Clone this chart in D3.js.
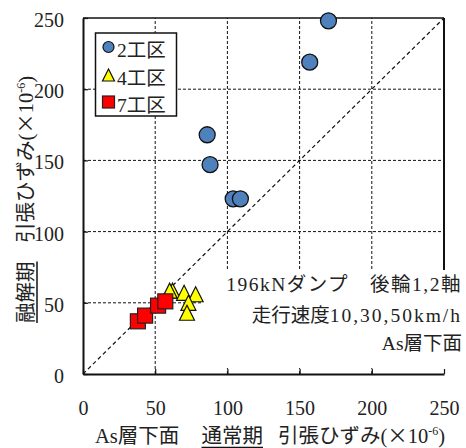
<!DOCTYPE html>
<html>
<head>
<meta charset="utf-8">
<script src="https://cdn.jsdelivr.net/npm/d3@7"></script>
<style>
  body { margin: 0; background: #fff; }
  svg text { font-family: "Liberation Serif", "Noto Sans CJK JP", serif; fill: #222; }
</style>
</head>
<body>
<svg id="chart" width="466" height="448"></svg>
<script>
// ---- data ----
const tickValues = [0, 50, 100, 150, 200, 250];
const gridValues = [50, 100, 150, 200];

// 2工区 (blue circles): [通常期, 融解期]
const zone2 = [[170, 248], [157, 219], [86, 168], [88, 147], [104, 123], [109, 123]];
// 4工区 (yellow triangles)
const zone4 = [[62, 58.5], [60, 58.5], [70, 57], [78, 56], [73, 50], [72, 43]];
// 7工区 (red squares)
const zone7 = [[38, 37], [43, 41], [52, 48], [57, 51]];

const seriesNames = ["2工区", "4工区", "7工区"];
const seriesColors = ["#4F81BD", "#FFFF00", "#FF0000"];

const noteLines = ["196kNダンプ　後輪1,2軸", "走行速度10,30,50km/h", "As層下面"];

// ---- layout ----
const svg = d3.select("#chart");
const x = d3.scaleLinear().domain([0, 250]).range([83, 444]);
const y = d3.scaleLinear().domain([0, 250]).range([374, 18]);

// 目盛線 (破線グリッド)
const grid = svg.append("g").attr("class", "grid");
grid.selectAll("line.v").data(gridValues).enter().append("line")
    .attr("x1", d => x(d)).attr("x2", d => x(d))
    .attr("y1", y(0)).attr("y2", y(250))
    .attr("stroke", "#111").attr("stroke-width", 1).attr("stroke-dasharray", "3,2");
grid.selectAll("line.h").data(gridValues).enter().append("line")
    .attr("x1", x(0)).attr("x2", x(250))
    .attr("y1", d => y(d)).attr("y2", d => y(d))
    .attr("stroke", "#111").attr("stroke-width", 1).attr("stroke-dasharray", "3,2");

// 1:1 線
svg.append("line")
    .attr("x1", x(0)).attr("y1", y(0))
    .attr("x2", x(250)).attr("y2", y(250))
    .attr("stroke", "#111").attr("stroke-width", 1.2).attr("stroke-dasharray", "4,3");

// 注記ボックス (グリッドを隠す白地)
svg.append("rect")
    .attr("x", 203).attr("y", 270).attr("width", 263).attr("height", 98)
    .attr("fill", "#fff");

const note = svg.append("g").attr("font-size", "19.5px").attr("text-anchor", "end");
note.append("text").attr("x", 462).attr("y", 291).attr("letter-spacing", "1.5px").text(noteLines[0]);
const l2 = note.append("text").attr("x", 462).attr("y", 321.5);
l2.append("tspan").text("走行速度");
l2.append("tspan").attr("letter-spacing", "2px").text("10,30,50km/h");
note.append("text").attr("x", 462).attr("y", 350).text(noteLines[2]);

// 枠線
const frame = svg.append("g").attr("stroke", "#111").attr("fill", "none");
frame.append("line").attr("x1", x(0)).attr("x2", x(250)).attr("y1", y(250)).attr("y2", y(250)).attr("stroke-width", 1.5);
frame.append("line").attr("x1", x(250)).attr("x2", x(250)).attr("y1", y(250)).attr("y2", 270).attr("stroke-width", 2);

// 軸 (内向き目盛)
const xAxis = svg.append("g").attr("transform", `translate(0,${y(0)})`)
    .call(d3.axisBottom(x).tickValues(tickValues).tickSizeInner(-5).tickSizeOuter(0).tickPadding(27));
const yAxis = svg.append("g").attr("transform", `translate(${x(0)},0)`)
    .call(d3.axisLeft(y).tickValues(tickValues).tickSizeInner(-5).tickSizeOuter(0).tickPadding(19));
[xAxis, yAxis].forEach(a => {
    a.select(".domain").attr("stroke", "#111").attr("stroke-width", 2);
    a.selectAll(".tick line").attr("stroke", "#111").attr("stroke-width", 1.2);
    a.selectAll(".tick text").attr("font-size", "20px").attr("fill", "#222")
        .attr("font-family", "Liberation Serif, serif");
});
yAxis.selectAll(".tick text").attr("dy", "0.42em");

// データ点
const marks = svg.append("g");
marks.selectAll("circle").data(zone2).enter().append("circle")
    .attr("cx", d => x(d[0])).attr("cy", d => y(d[1])).attr("r", 8)
    .attr("fill", seriesColors[0]).attr("stroke", "#111").attr("stroke-width", 1.3);
marks.selectAll("path.tri").data(zone4).enter().append("path")
    .attr("class", "tri")
    .attr("d", "M0,-7.5L7.5,7.5L-7.5,7.5Z")
    .attr("transform", d => `translate(${x(d[0])},${y(d[1])})`)
    .attr("fill", seriesColors[1]).attr("stroke", "#111").attr("stroke-width", 1.2);
marks.selectAll("rect").data(zone7).enter().append("rect")
    .attr("x", d => x(d[0]) - 7.5).attr("y", d => y(d[1]) - 7.5)
    .attr("width", 15).attr("height", 15)
    .attr("fill", seriesColors[2]).attr("stroke", "#222").attr("stroke-width", 1.2);

// 凡例
const legend = svg.append("g");
legend.append("rect").attr("x", 95.5).attr("y", 33).attr("width", 81).attr("height", 83)
    .attr("fill", "#fff").attr("stroke", "#111").attr("stroke-width", 1.5);
const legY = [47, 75, 102];
legend.append("circle").attr("cx", 108.5).attr("cy", legY[0]).attr("r", 5.5)
    .attr("fill", seriesColors[0]).attr("stroke", "#111").attr("stroke-width", 1.2);
legend.append("path").attr("d", "M0,-6L6,6L-6,6Z")
    .attr("transform", `translate(108.5,${legY[1]})`)
    .attr("fill", seriesColors[1]).attr("stroke", "#111").attr("stroke-width", 1.2);
legend.append("rect").attr("x", 102.5).attr("y", legY[2] - 6).attr("width", 12).attr("height", 12)
    .attr("fill", seriesColors[2]).attr("stroke", "#222").attr("stroke-width", 1.2);
legend.selectAll("text").data(seriesNames).enter().append("text")
    .attr("x", 117).attr("y", (d, i) => legY[i] + 9.5)
    .attr("font-size", "19.5px").text(d => d);

// 軸ラベル
function addUnit(t) {
    t.append("tspan").text("(");
    t.append("tspan").attr("font-family", "Noto Sans CJK JP").text("×");
    t.append("tspan").text("10");
    t.append("tspan").attr("font-size", "12px").attr("dy", "-8").text("-6");
    t.append("tspan").attr("dy", "8").text(")");
}

const xl = svg.append("g").attr("font-size", "20.5px");
xl.append("text").attr("x", 95).attr("y", 443).text("As層下面");
const xUnder = xl.append("text").attr("x", 201.5).attr("y", 443).text("通常期");
const xRest = xl.append("text").attr("x", 278).attr("y", 443).text("引張ひずみ");
addUnit(xRest);
const xw = xUnder.node().getComputedTextLength();
xl.append("line").attr("x1", 201.5).attr("x2", 201.5 + xw).attr("y1", 447.5).attr("y2", 447.5)
    .attr("stroke", "#111").attr("stroke-width", 1.5);

const yl = svg.append("g").attr("font-size", "20.5px");
const yUnder = yl.append("text").attr("transform", "translate(33,323) rotate(-90)").text("融解期");
const yRest = yl.append("text").attr("transform", "translate(33,243) rotate(-90)").text("引張ひずみ");
addUnit(yRest);
const yw = yUnder.node().getComputedTextLength();
yl.append("line").attr("x1", 37).attr("x2", 37).attr("y1", 323).attr("y2", 323 - yw)
    .attr("stroke", "#111").attr("stroke-width", 1.5);
</script>
</body>
</html>
